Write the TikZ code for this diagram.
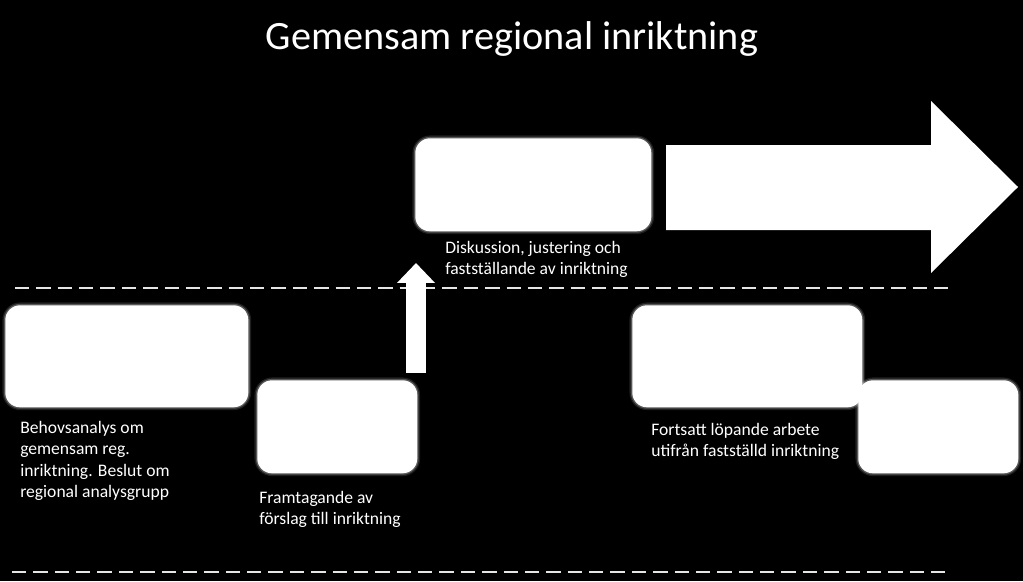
\documentclass[tikz,border=0pt]{standalone}
\usepackage{fontspec}
\setmainfont{Carlito}
\usetikzlibrary{arrows.meta}

\tikzset{
    stepbox/.style={fill=white, rounded corners=10.5pt, anchor=north west, inner sep=0pt,
        preaction={draw=white, opacity=0.12, line width=4pt},
        preaction={draw=white, opacity=0.25, line width=2pt}},
    steptext/.style={text=white, anchor=north west, inner sep=0pt, align=left,
        font=\fontsize{12.5}{15.2}\selectfont},
    divider/.style={draw=white!90!black, line width=1.4pt, dash pattern=on 10.2pt off 5pt}
}

\begin{document}
\begin{tikzpicture}[x=0.025cm, y=-0.025cm]
    \fill[black] (0,0) rectangle (1023,581);
    \useasboundingbox (0,0) rectangle (1023,581);

    \node[text=white, font=\fontsize{28.6}{32}\selectfont, anchor=base] (title) at (512,49) {Gemensam regional inriktning};

    % dividers
    \coordinate (upperL) at (15,288);
    \coordinate (upperR) at (948,288);
    \coordinate (lowerL) at (12,572);
    \coordinate (lowerR) at (945,572);
    \draw[divider] (upperL) -- (upperR);
    \draw[divider] (lowerL) -- (lowerR);

    % boxes
    \node[stepbox, minimum width=6.075cm, minimum height=2.55cm] (need) at (5,305) {};
    \node[stepbox, minimum width=4cm, minimum height=2.325cm] (draft) at (257,380) {};
    \node[stepbox, minimum width=5.9cm, minimum height=2.325cm] (decide) at (415,138) {};
    \node[stepbox, minimum width=5.75cm, minimum height=2.55cm] (work) at (632,305) {};
    \node[stepbox, minimum width=4cm, minimum height=2.325cm] (follow) at (858,380) {};

    \node[steptext] (needtext) at (20,421) {Behovsanalys om\\gemensam reg.\\inriktning. Beslut om\\regional analysgrupp};
    \node[steptext] (drafttext) at (259,491) {Framtagande av\\förslag till inriktning};
    \node[steptext] (decidetext) at (445,241) {Diskussion, justering och\\fastställande av inriktning};
    \node[steptext] (worktext) at (651,423) {Fortsatt löpande arbete\\utifrån fastställd inriktning};

    % arrows
    \coordinate (upfoot) at (416,373);
    \coordinate (uptip) at (416,263);
    \draw[white, line width=14.2pt, -{Triangle[width=26.2pt, length=14.2pt]}] (upfoot) -- (uptip);

    \fill[white] (666,145) -- (931,145) -- (931,101) -- (1018,187) -- (931,273) -- (931,230) -- (666,230) -- cycle;
\end{tikzpicture}
\end{document}
